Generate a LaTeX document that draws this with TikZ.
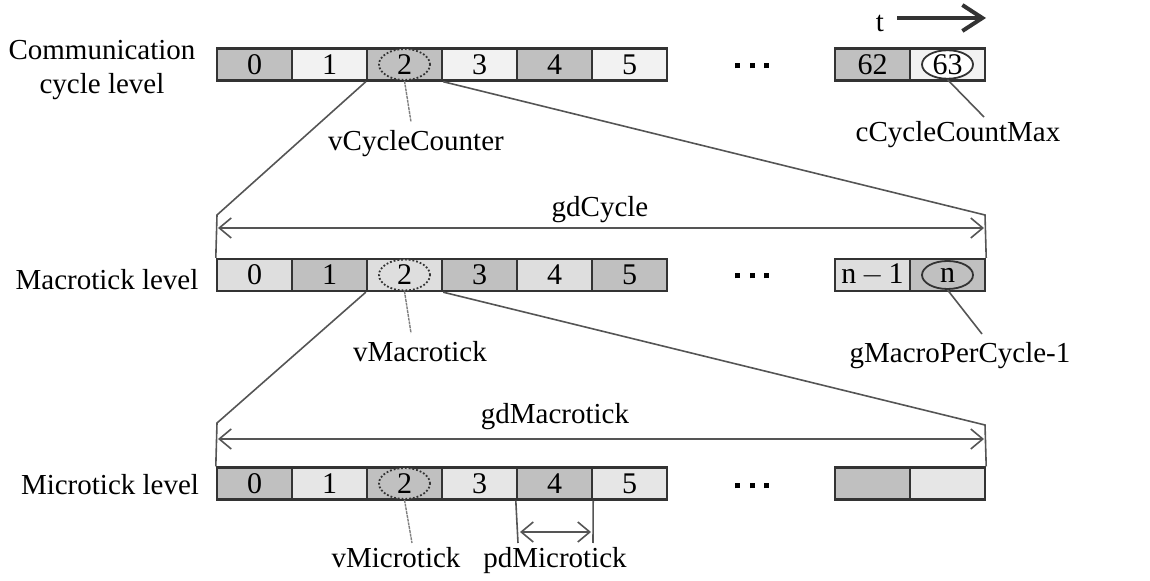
\documentclass[tikz,border=0pt]{standalone}
\usepackage{fontspec}
\setmainfont{Liberation Serif}
\usetikzlibrary{shapes.geometric,arrows.meta}
\definecolor{cdark}{HTML}{C0C0C0}
\definecolor{clightA}{HTML}{F2F2F2}
\definecolor{clightB}{HTML}{DEDEDE}
\definecolor{clightC}{HTML}{E6E6E6}
\definecolor{cedge}{HTML}{333333}
\definecolor{cline}{HTML}{555555}
\tikzset{
  cell/.style={draw=cedge,line width=1.2pt,minimum width=37.5pt,minimum height=16pt,inner sep=0pt,font=\fontsize{15}{16}\selectfont},
  dotell/.style={ellipse,draw=cedge,densely dotted,line width=0.9pt,minimum width=25.5pt,minimum height=15.5pt,inner sep=0pt,font=\fontsize{15}{16}\selectfont},
  solell/.style={ellipse,draw=cedge,line width=0.9pt,minimum width=25.5pt,minimum height=14pt,inner sep=0pt,font=\fontsize{15}{16}\selectfont},
  lbl/.style={inner sep=0pt,font=\fontsize{14.5}{17.4}\selectfont},
  zoomline/.style={draw=cline,line width=0.8pt},
  leaderdot/.style={draw=gray,line width=0.7pt,dash pattern=on 1.5pt off 0.4pt},
  leader/.style={draw=cline,line width=0.8pt},
  dimarrow/.style={draw=cline,line width=0.8pt,{Straight Barb[length=6pt,width=10pt]}-{Straight Barb[length=6pt,width=10pt]}},
  dots/.style={inner sep=0pt},
}
\newcommand{\sqdots}{\rule{2.5pt}{2.5pt}\hspace{4.9pt}\rule{2.5pt}{2.5pt}\hspace{4.9pt}\rule{2.5pt}{2.5pt}}
\begin{document}
\begin{tikzpicture}[x=0.5pt,y=-0.5pt]
\useasboundingbox (0,0) rectangle (1150,581);
% ---------- Row 1 ----------
\foreach \i/\c/\t in {0/cdark/0,1/clightA/1,2/cdark/,3/clightA/3,4/cdark/4,5/clightA/5}
  \node[cell,fill=\c] (a\i) at ({254.5+75*\i},64.5) {\t};
\node[cell,fill=cdark] (a62) at (872.5,64.5) {62};
\node[cell,fill=clightA] (a63) at (947.5,64.5) {};
\node[dotell,fill=cdark] (ea) at (a2) {2};
\node[solell,fill=white] (eb) at (a63) {63};
\node[dots] (dA) at (752,66) {\sqdots};
% ---------- Row 2 ----------
\foreach \i/\c/\t in {0/clightB/0,1/cdark/1,2/clightB/,3/cdark/3,4/clightB/4,5/cdark/5}
  \node[cell,fill=\c] (b\i) at ({254.5+75*\i},275) {\t};
\node[cell,fill=clightB] (bn1) at (872.5,275) {n\,$-$\,1};
\node[cell,fill=cdark] (bn) at (947.5,275) {};
\node[dotell,fill=clightB] (ec) at (b2) {2};
\node[solell,fill=cdark] (ed) at (bn) {n};
\node[dots] (dB) at (752,276) {\sqdots};
% ---------- Row 3 ----------
\foreach \i/\c/\t in {0/cdark/0,1/clightC/1,2/cdark/,3/clightC/3,4/cdark/4,5/clightC/5}
  \node[cell,fill=\c] (c\i) at ({254.5+75*\i},483.5) {\t};
\node[cell,fill=cdark] (cx1) at (872.5,483.5) {};
\node[cell,fill=clightC] (cx2) at (947.5,483.5) {};
\node[dotell,fill=cdark] (ee) at (c2) {2};
\node[dots] (dC) at (752,486) {\sqdots};
% ---------- Level labels ----------
\node[lbl,align=center] (l1) at (102,70) {Communication\\cycle level};
\node[lbl] (l2) at (107,280) {Macrotick level};
\node[lbl] (l3) at (110,485) {Microtick level};
% ---------- time arrow ----------
\node[lbl] (tl) at (880,23) {t};
\coordinate (ts) at (897,18);
\coordinate (te) at (986,18);
\draw[draw=cedge,line width=2pt,-{Straight Barb[length=10pt,width=13pt]}] (ts) -- (te);
% ---------- zoom lines row 1 -> row 2 ----------
\coordinate (zl1) at (217,215);
\coordinate (zr1) at (985,215);
\draw[zoomline] (a2.south west) -- (zl1) -- (b0.north west);
\draw[zoomline] (a2.south east) -- (zr1) -- (bn.north east);
\coordinate (g1l) at (218,228);
\coordinate (g1r) at (984,228);
\draw[dimarrow] (g1l) -- (g1r);
\node[lbl] (gdc) at (600,210) {gdCycle};
% ---------- zoom lines row 2 -> row 3 ----------
\coordinate (zl2) at (217,423);
\coordinate (zr2) at (985,425);
\draw[zoomline] (b2.south west) -- (zl2) -- (c0.north west);
\draw[zoomline] (b2.south east) -- (zr2) -- (cx2.north east);
\coordinate (g2l) at (218,439);
\coordinate (g2r) at (984,439);
\draw[dimarrow] (g2l) -- (g2r);
\node[lbl] (gdm) at (555,417) {gdMacrotick};
% ---------- annotations ----------
\node[lbl,anchor=north] (vcc) at (416,130) {vCycleCounter};
\draw[leaderdot] (ea.south) -- ([xshift=-2.5pt,yshift=4pt]vcc.north);
\node[lbl,anchor=north] (ccm) at (958,121) {cCycleCountMax};
\draw[leader] (eb.south) -- ([xshift=13pt,yshift=2pt]ccm.north);
\node[lbl,anchor=north] (vmt) at (420,341) {vMacrotick};
\draw[leaderdot] (ec.south) -- ([xshift=-4.5pt,yshift=4pt]vmt.north);
\node[lbl,anchor=north] (gmp) at (960,342) {gMacroPerCycle-1};
\draw[leader] (ed.south) -- ([xshift=11pt,yshift=4pt]gmp.north);
\node[lbl,anchor=north] (vmi) at (396,547) {vMicrotick};
\draw[leaderdot] (ee.south) -- ([xshift=8pt,yshift=2pt]vmi.north);
\node[lbl,anchor=north] (pdm) at (555,547) {pdMicrotick};
\coordinate (p1) at (518,543);
\coordinate (p2) at (593,543);
\draw[zoomline] (c4.south west) -- (p1);
\draw[zoomline] (c4.south east) -- (p2);
\coordinate (pa1) at (520,532);
\coordinate (pa2) at (591,532);
\draw[dimarrow] (pa1) -- (pa2);
\end{tikzpicture}
\end{document}
